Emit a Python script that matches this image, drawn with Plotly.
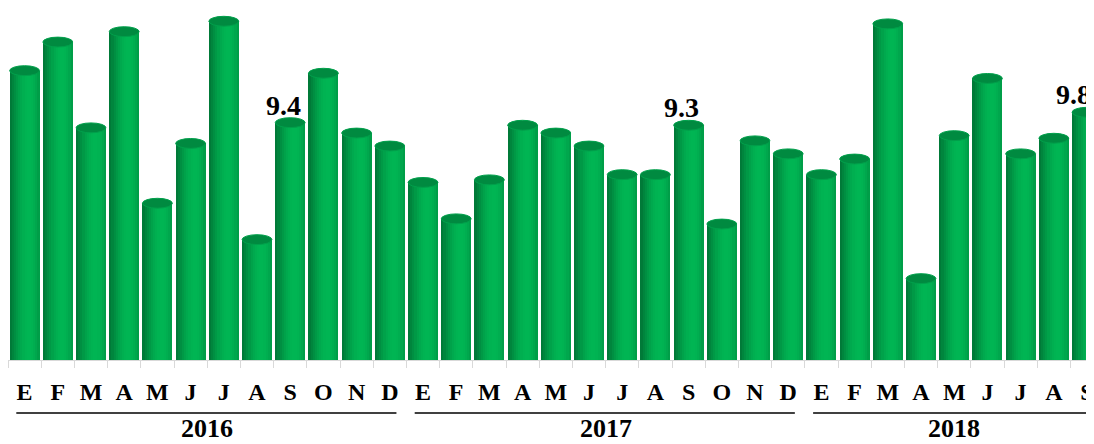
import math
import plotly.graph_objects as go

# datos
meses = ["E", "F", "M", "A", "M", "J", "J", "A", "S", "O", "N", "D"]
anios = ["2016", "2017", "2018"]
meses_por_anio = [12, 12, 9]
valores = [11.4, 12.5, 9.2, 12.9, 6.3, 8.6, 13.3, 4.9, 9.4, 11.3, 9.0, 8.5,
           7.1, 5.7, 7.2, 9.3, 9.0, 8.5, 7.4, 7.4, 9.3, 5.5, 8.7, 8.2,
           7.4, 8.0, 13.2, 3.4, 8.9, 11.1, 8.2, 8.8, 9.8]
con_etiqueta = [8, 20, 32]  # septiembres

x = list(range(len(valores)))
ticktext = []
for n in meses_por_anio:
    ticktext += meses[:n]

fuente = "Liberation Serif, Times New Roman, serif"
ancho = 0.9       # ancho del cilindro
semi_alto = 0.19  # medio alto de la elipse de la tapa

# color del cilindro: oscuro a la izquierda, brillante a la derecha
oscuro = (0, 105, 48)
brillante = (0, 182, 84)
n_franjas = 14
dw = ancho / n_franjas

fig = go.Figure()
for k in range(n_franjas):
    t = (k + 0.5) / n_franjas
    if t < 0.65:
        b = math.sin(math.pi / 2 * t / 0.65)
    else:
        b = 1 - 0.45 * ((t - 0.65) / 0.35) ** 2
    b = 0.15 + 0.85 * b
    c = tuple(int(oscuro[j] + (brillante[j] - oscuro[j]) * b) for j in range(3))
    fig.add_trace(go.Bar(
        x=x, y=valores,
        width=ancho - k * dw,
        offset=-ancho / 2 + k * dw,
        marker=dict(color="rgb(%d,%d,%d)" % c, line=dict(width=0)),
        hoverinfo="skip",
    ))

# tapas elipticas
for i, v in zip(x, valores):
    fig.add_shape(type="circle", xref="x", yref="y",
                  x0=i - ancho / 2, x1=i + ancho / 2,
                  y0=v - semi_alto, y1=v + semi_alto,
                  fillcolor="#008a40", line=dict(color="#00a04b", width=1))

# etiquetas de valor (la ultima queda pegada al borde derecho)
for i in con_etiqueta:
    fig.add_annotation(x=i, y=valores[i], text="%.1f" % valores[i],
                       showarrow=False, yanchor="bottom", yshift=0,
                       xshift=-14 if i == x[-1] else -7,
                       font=dict(family=fuente, size=28, color="black", weight="bold"))

# lineas y etiquetas de anio
inicio = 0
for anio, n in zip(anios, meses_por_anio):
    fin = inicio + n - 1
    fig.add_shape(type="line", xref="x", yref="paper",
                  x0=inicio - 0.25, x1=fin + 0.2, y0=-0.1506, y1=-0.1506,
                  line=dict(color="black", width=1.5))
    fig.add_annotation(x=(inicio + fin) / 2, y=-0.196, xref="x", yref="paper",
                       text=anio, showarrow=False, yanchor="middle",
                       borderpad=0,
                       font=dict(family=fuente, size=26, color="black", weight="bold"))
    inicio += n

fig.update_layout(
    width=1086, height=436,
    margin=dict(l=0, r=0, t=0, b=84),
    plot_bgcolor="white", paper_bgcolor="white",
    barmode="overlay", bargap=0,
    showlegend=False,
)
fig.update_xaxes(
    range=[-0.5, 32.06],
    tickvals=x, ticktext=ticktext,
    tickfont=dict(family=fuente, size=24, color="black", weight="bold"),
    ticklabeloverflow="allow",
    showline=True, linecolor="#d9d9d9", linewidth=1,
    showgrid=False, zeroline=False, ticks="",
    ticklabelstandoff=10,
    minor=dict(tickvals=[i + 0.5 for i in range(-1, len(valores))],
               ticks="outside", ticklen=7, tickcolor="#d9d9d9", showgrid=False),
)
fig.update_yaxes(range=[0.27, 13.81], visible=False)

fig.write_html("out.html")
